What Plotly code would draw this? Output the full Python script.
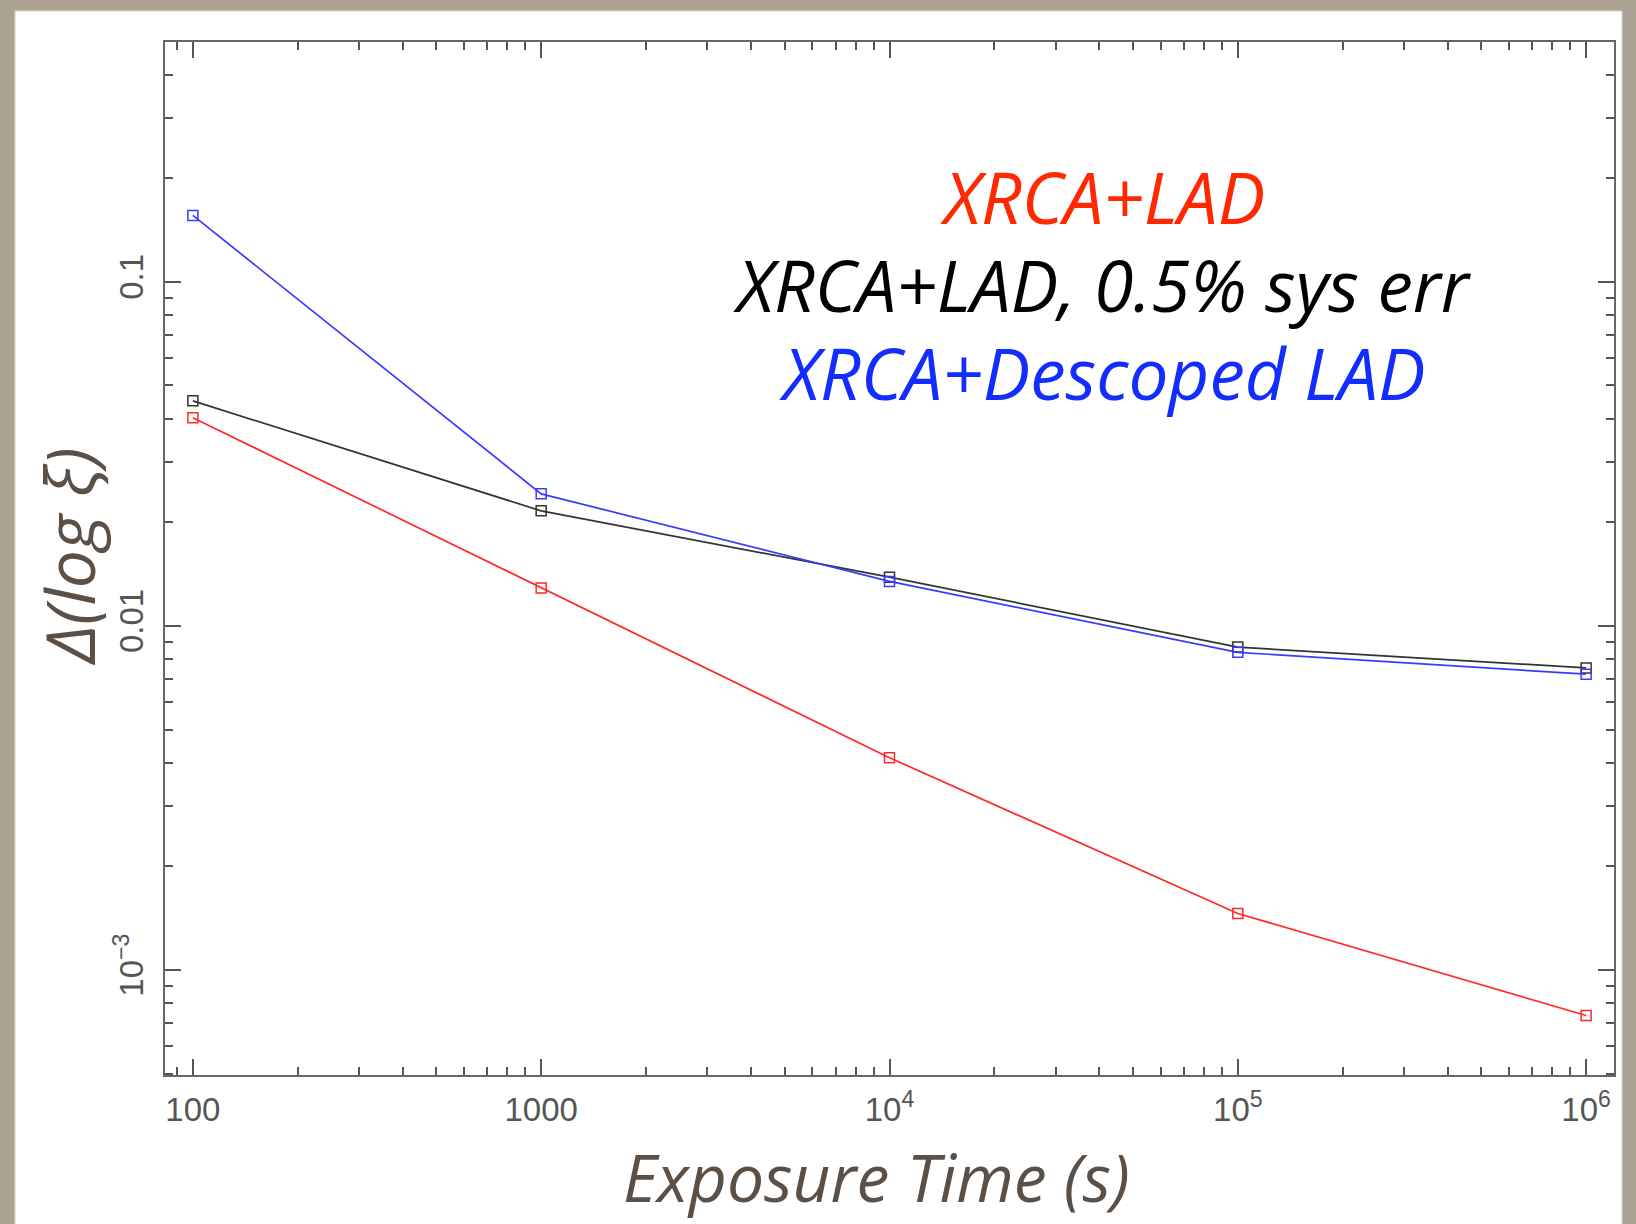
import plotly.graph_objects as go

exposure = [100, 1000, 1e4, 1e5, 1e6]
xrca_lad = [0.0403, 0.0129, 0.00414, 0.00146, 0.000738]
xrca_lad_sys = [0.0451, 0.0216, 0.01386, 0.00868, 0.00755]
xrca_descoped = [0.156, 0.0242, 0.01347, 0.00838, 0.00724]

x_tickvals = [100, 1000, 1e4, 1e5, 1e6]
x_ticktext = ["100", "1000", "10<sup>4</sup>", "10<sup>5</sup>", "10<sup>6</sup>"]
y_tickvals = [0.1, 0.01, 0.001]
y_ticktext = ["0.1", "0.01", "10<sup>\u22123</sup>"]

series = [
    ("XRCA+LAD", xrca_lad, "#ff2a2a"),
    ("XRCA+LAD, 0.5% sys err", xrca_lad_sys, "#333333"),
    ("XRCA+Descoped LAD", xrca_descoped, "#3a3aff"),
]

fig = go.Figure()
for name, vals, col in series:
    fig.add_trace(go.Scatter(
        x=exposure, y=vals, mode="lines+markers", name=name,
        line=dict(color=col, width=1.7),
        marker=dict(symbol="square-open", size=10, color=col, line=dict(width=1.5, color=col)),
        showlegend=False,
    ))

W, H = 1636, 1224
L, R, T, B = 165, 22, 42, 149
pw, ph = W - L - R, H - T - B

def px(x):
    return (x - L) / pw

def py(y):
    return (H - B - y) / ph

fig.add_shape(type="rect", xref="paper", yref="paper",
              x0=px(15), x1=px(1622), y0=py(1240), y1=py(11),
              fillcolor="white", line=dict(color="#d8d4cf", width=1), layer="below")

title_col = "rgb(90,80,72)"
annos = [
    ("XRCA+LAD", "rgb(255,40,0)", 196),
    ("XRCA+LAD, 0.5% sys err", "#000000", 284),
    ("XRCA+Descoped LAD", "rgb(20,45,255)", 372),
]
for txt, col, ypix in annos:
    fig.add_annotation(xref="paper", yref="paper", x=px(1102), y=py(ypix),
                       text="<i>" + txt + "</i>", showarrow=False,
                       font=dict(family="Open Sans", size=71, color=col),
                       xanchor="center", yanchor="middle")

fig.add_annotation(xref="paper", yref="paper", x=px(876), y=py(1223),
                   text="<i>Exposure Time (s)</i>", showarrow=False,
                   font=dict(family="Open Sans", size=66, color=title_col),
                   xanchor="center", yanchor="bottom")
fig.add_annotation(xref="paper", yref="paper", x=px(68), y=py(556),
                   text="<i>\u0394(log \u03be)</i>", showarrow=False, textangle=-90,
                   font=dict(family="Open Sans", size=68, color=title_col),
                   xanchor="center", yanchor="middle")

axis_common = dict(
    type="log", ticks="inside", ticklen=16, tickwidth=2, tickcolor="#555555",
    showline=True, linecolor="#666666", linewidth=2, mirror="allticks",
    showgrid=False, zeroline=False,
    tickfont=dict(family="Liberation Sans", size=33, color="#555555"),
    minor=dict(ticks="inside", ticklen=8, tickwidth=2, tickcolor="#555555", dtick="D1", showgrid=False),
)

fig.update_xaxes(range=[1.92, 6.08], tickvals=x_tickvals, ticktext=x_ticktext,
                 ticklabelstandoff=4, **axis_common)
fig.update_yaxes(range=[-3.305, -0.303], tickvals=y_tickvals, ticktext=y_ticktext,
                 tickangle=-90, ticklabelstandoff=7, **axis_common)

fig.update_layout(
    width=W, height=H,
    margin=dict(l=L, r=R, t=T, b=B, autoexpand=False),
    paper_bgcolor="#ada393", plot_bgcolor="white",
)

fig.write_html("out.html")
